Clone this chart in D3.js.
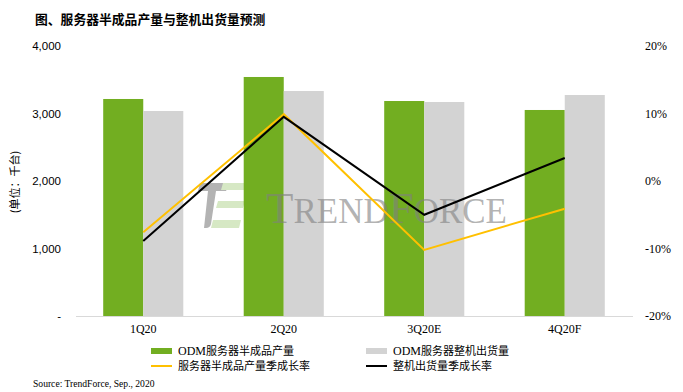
<!DOCTYPE html>
<html><head><meta charset="utf-8">
<script src="https://cdn.jsdelivr.net/npm/d3@7"></script>
<style>html,body{margin:0;padding:0;background:#fff;}svg{display:block;}</style>
</head><body>
<svg id="c" width="683" height="392"></svg>
<script>
const categories = ["1Q20","2Q20","3Q20E","4Q20F"];
const odmSemi = [3215, 3541, 3185, 3052];
const odmFull = [3037, 3333, 3170, 3274];
const semiQoQ = [-7.6, 9.9, -10.2, -4.1];
const fullQoQ = [-8.9, 9.5, -5.0, 3.4];
const leftTicks = [0, 1000, 2000, 3000, 4000];
const rightTicks = [-20, -10, 0, 10, 20];
const title = "图、服务器半成品产量与整机出货量预测";
const yTitle = "(单位：千台)";
const source = "Source: TrendForce, Sep., 2020";

const svg = d3.select("#c");
const GREEN = "#72AE21", GRAY = "#D3D3D3", YEL = "#FFC000";
const pTop = 46, pBottom = 316, pLeft = 73, pRight = 635;

const x = d3.scaleBand().domain(categories).range([pLeft, pRight]).paddingInner(0.43).paddingOuter(0.215);
const yL = d3.scaleLinear().domain([0, 4000]).range([pBottom, pTop]);
const yR = d3.scaleLinear().domain([-20, 20]).range([pBottom, pTop]);

// title
svg.append("text").attr("x", 35).attr("y", 24).attr("font-family", "Noto Sans CJK SC")
  .attr("font-weight", "bold").attr("font-size", 12.8).attr("fill", "#000").text(title);

// watermark logo
const wm = svg.append("g");
wm.append("path").attr("d", "M200,183 L230,183 L226,191 L216,191 L211,224 Q210,228 206,228 L204,228 L208,191 L198,191 Z").attr("fill", "#b3b3b3");
wm.append("path").attr("d", "M223,183 L250,183 L248,190 L221,190 Z M218,201 L245,201 L243,208 L216,208 Z M213,220 L241,220 L239,228 L211,228 Z").attr("fill", "#d6e8c4");

// bars
const bw = x.bandwidth() / 2;
svg.append("g").selectAll("rect").data(categories).join("rect")
  .attr("x", d => x(d)).attr("width", bw)
  .attr("y", (d, i) => yL(odmSemi[i])).attr("height", (d, i) => yL(0) - yL(odmSemi[i]))
  .attr("fill", GREEN);
svg.append("g").selectAll("rect").data(categories).join("rect")
  .attr("x", d => x(d) + bw).attr("width", bw)
  .attr("y", (d, i) => yL(odmFull[i])).attr("height", (d, i) => yL(0) - yL(odmFull[i]))
  .attr("fill", GRAY);

// watermark text (on top, translucent)
svg.append("text").attr("x", 266).attr("y", 223).attr("font-family", "Liberation Serif")
  .attr("fill", "#808080").attr("fill-opacity", 0.6)
  .attr("textLength", 241).attr("lengthAdjust", "spacingAndGlyphs")
  .call(t => {
    t.append("tspan").attr("font-size", 45).text("T");
    t.append("tspan").attr("font-size", 35).text("REND");
    t.append("tspan").attr("font-size", 45).text("F");
    t.append("tspan").attr("font-size", 35).text("ORCE");
  });

// baseline
svg.append("line").attr("x1", 76).attr("x2", 633).attr("y1", pBottom + 0.5).attr("y2", pBottom + 0.5)
  .attr("stroke", "#D9D9D9").attr("stroke-width", 1);

// lines
const cx = d => x(d) + x.bandwidth() / 2;
const lineGen = arr => d3.line().x(d => cx(d)).y((d, i) => yR(arr[i]));
svg.append("path").datum(categories).attr("d", lineGen(semiQoQ)).attr("fill", "none")
  .attr("stroke", YEL).attr("stroke-width", 2);
svg.append("path").datum(categories).attr("d", lineGen(fullQoQ)).attr("fill", "none")
  .attr("stroke", "#000").attr("stroke-width", 2);

// left axis
const la = svg.append("g").attr("transform", `translate(${61},0)`)
  .call(d3.axisLeft(yL).tickValues(leftTicks).tickSize(0).tickPadding(0)
    .tickFormat(d => d === 0 ? "-" : d3.format(",")(d)));
la.select(".domain").remove();
la.selectAll("text").attr("font-family", "Liberation Sans").attr("font-size", 11.5).attr("fill", "#000");

// right axis
const ra = svg.append("g").attr("transform", `translate(${645},0)`)
  .call(d3.axisRight(yR).tickValues(rightTicks).tickSize(0).tickPadding(0).tickFormat(d => d + "%"));
ra.select(".domain").remove();
ra.selectAll("text").attr("font-family", "Liberation Serif").attr("font-size", 12).attr("fill", "#000");

// x axis labels
const xa = svg.append("g").attr("transform", `translate(0,${324})`)
  .call(d3.axisBottom(x).tickSize(0).tickPadding(0));
xa.select(".domain").remove();
xa.selectAll("text").attr("font-family", "Liberation Serif").attr("font-size", 12).attr("fill", "#000").attr("dy", "0.71em");

// y title
svg.append("text").attr("transform", "translate(19,182) rotate(-90)").attr("text-anchor", "middle")
  .attr("font-family", "Noto Sans CJK SC").attr("font-size", 11).attr("fill", "#000").text(yTitle);

// legend
const legend = [
  {label: "ODM服务器半成品产量", color: GREEN, type: "rect", x: 151, y: 351},
  {label: "ODM服务器整机出货量", color: GRAY, type: "rect", x: 366, y: 351},
  {label: "服务器半成品产量季成长率", color: YEL, type: "line", x: 151, y: 366},
  {label: "整机出货量季成长率", color: "#000", type: "line", x: 366, y: 366}
];
const lg = svg.append("g").selectAll("g").data(legend).join("g")
  .attr("transform", d => `translate(${d.x},${d.y})`);
lg.each(function(d) {
  const g = d3.select(this);
  if (d.type === "rect") g.append("rect").attr("x", 0).attr("y", -3).attr("width", 21).attr("height", 6).attr("fill", d.color);
  else g.append("line").attr("x1", 0).attr("x2", 21).attr("y1", 0).attr("y2", 0).attr("stroke", d.color).attr("stroke-width", 2);
  const t = g.append("text").attr("x", 27).attr("y", 4).attr("font-family", "Noto Sans CJK SC").attr("font-size", 11).attr("fill", "#000");
  if (d.label.startsWith("ODM")) {
    t.append("tspan").attr("font-family", "Liberation Serif").attr("font-size", 12).text("ODM");
    t.append("tspan").text(d.label.slice(3));
  } else t.text(d.label);
});

// source
svg.append("text").attr("x", 33).attr("y", 387).attr("font-family", "Liberation Serif")
  .attr("font-size", 9.6).attr("fill", "#000").text(source);
</script>
</body></html>
